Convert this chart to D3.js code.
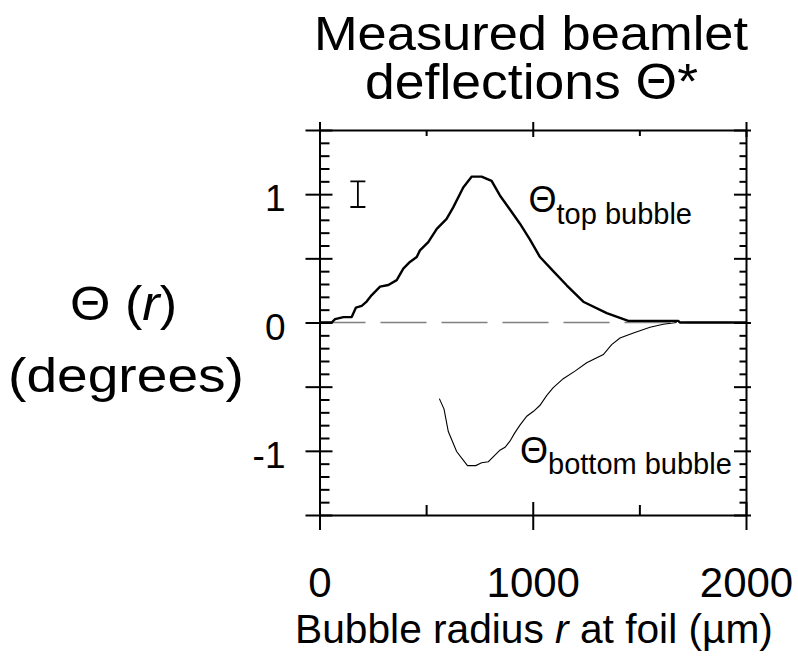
<!DOCTYPE html>
<html><head><meta charset="utf-8">
<script src="https://cdn.jsdelivr.net/npm/d3@7"></script>
<style>
body{margin:0;background:#fff}
svg{display:block}
text{font-family:"Liberation Sans",Arial,Helvetica,sans-serif;fill:#000}
</style>
</head><body>
<svg id="chart" width="798" height="656"></svg>
<script>
// ---- data ----
const topR     = [0, 57, 73, 112, 151, 171, 198, 221, 245, 284, 323, 362, 393, 424, 456, 471, 510, 550, 596, 627, 674, 714, 760, 807, 846, 893, 940, 987, 1034, 1096, 1159, 1237, 1347, 1448, 1682, 1690, 2000];
const topTheta = [0, 0, 0.026, 0.042, 0.042, 0.116, 0.13, 0.163, 0.214, 0.279, 0.292, 0.33, 0.42, 0.472, 0.51, 0.562, 0.626, 0.73, 0.807, 0.897, 1.052, 1.137, 1.137, 1.104, 0.99, 0.88, 0.77, 0.645, 0.51, 0.40, 0.29, 0.162, 0.073, 0.013, 0.013, 0, 0];
const botR     = [562, 584, 604, 643, 694, 733, 760, 792, 846, 870, 893, 915, 940, 972, 1005, 1034, 1065, 1095, 1143, 1198, 1253, 1331, 1370, 1409, 1472, 1550, 1612, 1675];
const botTheta = [-0.593, -0.675, -0.85, -1.005, -1.115, -1.115, -1.093, -1.085, -0.995, -0.972, -0.925, -0.862, -0.80, -0.73, -0.69, -0.645, -0.57, -0.51, -0.438, -0.379, -0.314, -0.25, -0.172, -0.121, -0.082, -0.037, -0.014, 0];
const errR = [180], errTheta = [1.0], errHalf = [0.1];
const xMajor = [0, 1000, 2000];
const xMinor = [500, 1500];
const xTickLabels = ["0", "1000", "2000"];
const yMajor = [-1.5, -1, -0.5, 0, 0.5, 1, 1.5];
const yMinor = [-1.4, -1.3, -1.2, -1.1, -0.9, -0.8, -0.7, -0.6, -0.4, -0.3, -0.2, -0.1, 0.1, 0.2, 0.3, 0.4, 0.6, 0.7, 0.8, 0.9, 1.1, 1.2, 1.3, 1.4];
const yLabelled = [-1, 0, 1];
const titleLines = ["Measured beamlet", "deflections "];
const xTitle = ["Bubble radius ", "r", " at foil (µm)"];
const yTitle = ["(", "r", ")", "(degrees)"];
const curveLabels = [["top bubble"], ["bottom bubble"]];

// ---- setup ----
const svg = d3.select("#chart");
const x = d3.scaleLinear().domain([0, 2000]).range([319.5, 746]);
const y = d3.scaleLinear().domain([-1.5, 1.5]).range([515, 130]);
const THETA = "\u0398";

// zero dashed line
svg.append("line")
  .attr("x1", x(0)).attr("x2", x(2000)).attr("y1", y(0)).attr("y2", y(0))
  .attr("stroke", "#808080").attr("stroke-width", 1.5).attr("stroke-dasharray", "46,15");

const line = d3.line().x(d => x(d[0])).y(d => y(d[1]));
svg.append("path").datum(d3.zip(botR, botTheta)).attr("d", line)
  .attr("fill", "none").attr("stroke", "#000").attr("stroke-width", 1.1);
svg.append("path").datum(d3.zip(topR, topTheta)).attr("d", line)
  .attr("fill", "none").attr("stroke", "#000").attr("stroke-width", 2.4).attr("stroke-linejoin", "round");

// error bar
errR.forEach((r, i) => {
  const cx = x(r), y1 = y(errTheta[i] + errHalf[i]), y2 = y(errTheta[i] - errHalf[i]);
  svg.append("path")
    .attr("d", `M${cx},${y1}V${y2}M${cx - 7.5},${y1}H${cx + 7.5}M${cx - 7.5},${y2}H${cx + 7.5}`)
    .attr("fill", "none").attr("stroke", "#000").attr("stroke-width", 1.8);
});

// ---- axes ----
function styleAx(g, a1, b1, attr1, attr2) {
  g.select(".domain").attr("stroke", "#000").attr("stroke-width", 2);
  g.selectAll(".tick line").attr("stroke", "#000").attr("stroke-width", 2)
    .attr(attr1, a1).attr(attr2, b1);
  g.selectAll(".tick text").remove();
}
// left
svg.append("g").attr("transform", `translate(${x(0)},0)`)
  .call(d3.axisLeft(y).tickValues(yMajor).tickSizeOuter(0).tickFormat(""))
  .call(g => styleAx(g, 13, -14, "x1", "x2"));
svg.append("g").attr("transform", `translate(${x(0)},0)`)
  .call(d3.axisLeft(y).tickValues(yMinor).tickSizeOuter(0).tickFormat(""))
  .call(g => { g.select(".domain").remove(); styleAx(g, 0, 10, "x1", "x2"); });
// right
svg.append("g").attr("transform", `translate(${x(2000)},0)`)
  .call(d3.axisRight(y).tickValues(yMajor).tickSizeOuter(0).tickFormat(""))
  .call(g => styleAx(g, -12, 5, "x1", "x2"));
svg.append("g").attr("transform", `translate(${x(2000)},0)`)
  .call(d3.axisRight(y).tickValues(yMinor).tickSizeOuter(0).tickFormat(""))
  .call(g => { g.select(".domain").remove(); styleAx(g, 0, -6.5, "x1", "x2"); });
// top
svg.append("g").attr("transform", `translate(0,${y(1.5)})`)
  .call(d3.axisTop(x).tickValues(xMajor).tickSizeOuter(0).tickFormat(""))
  .call(g => styleAx(g, 7, -8, "y1", "y2"));
svg.append("g").attr("transform", `translate(0,${y(1.5)})`)
  .call(d3.axisTop(x).tickValues(xMinor).tickSizeOuter(0).tickFormat(""))
  .call(g => { g.select(".domain").remove(); styleAx(g, 0, 6, "y1", "y2"); });
// bottom
svg.append("g").attr("transform", `translate(0,${y(-1.5)})`)
  .call(d3.axisBottom(x).tickValues(xMajor).tickSizeOuter(0).tickFormat(""))
  .call(g => styleAx(g, -13, 15, "y1", "y2"));
svg.append("g").attr("transform", `translate(0,${y(-1.5)})`)
  .call(d3.axisBottom(x).tickValues(xMinor).tickSizeOuter(0).tickFormat(""))
  .call(g => { g.select(".domain").remove(); styleAx(g, 0, -10, "y1", "y2"); });

// tick labels
svg.append("g").attr("transform", `translate(0,${y(-1.5)})`)
  .call(d3.axisBottom(x).tickValues(xMajor).tickSize(0).tickFormat((d, i) => xTickLabels[i]))
  .call(g => {
    g.select(".domain").remove();
    g.selectAll(".tick text").attr("y", 82).attr("dy", null)
      .attr("font-size", 42).attr("font-family", null).attr("fill", "#000");
  });
svg.append("g").attr("transform", `translate(${x(0)},0)`)
  .call(d3.axisLeft(y).tickValues(yLabelled).tickSize(0).tickPadding(34).tickFormat(d => String(d)))
  .call(g => {
    g.select(".domain").remove();
    g.selectAll(".tick text").attr("dy", "0.45em")
      .attr("font-size", 37).attr("font-family", null).attr("fill", "#000");
  });

// ---- text helpers ----
function fitText(cx, by, fs, width, build) {
  const t = svg.append("text").attr("text-anchor", "middle").attr("font-size", fs);
  build(t);
  const w = t.node().getComputedTextLength();
  t.attr("transform", `translate(${cx},${by}) scale(${width / w},1)`);
  return t;
}

// title (one text element, two lines)
const title = svg.append("text").attr("text-anchor", "middle")
  .attr("transform", "translate(531,50) scale(1.07,1)");
title.append("tspan").attr("x", 0).attr("y", 0).attr("font-size", 49).text(titleLines[0]);
const t2 = title.append("tspan").attr("x", 0.5).attr("y", 49).attr("font-size", 50);
t2.append("tspan").text(titleLines[1] + THETA + "*");

// y title
fitText(123.5, 320, 48, 107, t => {
  t.append("tspan").text(THETA + " ");
  t.append("tspan").text(yTitle[0]);
  t.append("tspan").attr("font-style", "italic").text(yTitle[1]);
  t.append("tspan").text(yTitle[2]);
});
fitText(126, 392, 49, 236, t => t.text(yTitle[3]));

// x title
fitText(534, 643, 40, 478, t => {
  t.append("tspan").text(xTitle[0]);
  t.append("tspan").attr("font-style", "italic").text(xTitle[1]);
  t.append("tspan").text(xTitle[2]);
});

// curve labels
const labPos = [[528.5, 212, 12], [520, 463, 10.5]];
curveLabels.forEach((lab, i) => {
  const [lx, ly, sub] = labPos[i];
  const t = svg.append("text").attr("x", lx).attr("y", ly);
  t.append("tspan").attr("font-size", 36).text(THETA);
  t.append("tspan").attr("font-size", 29).attr("dy", sub).text(lab[0]);
});
</script>
</body></html>
